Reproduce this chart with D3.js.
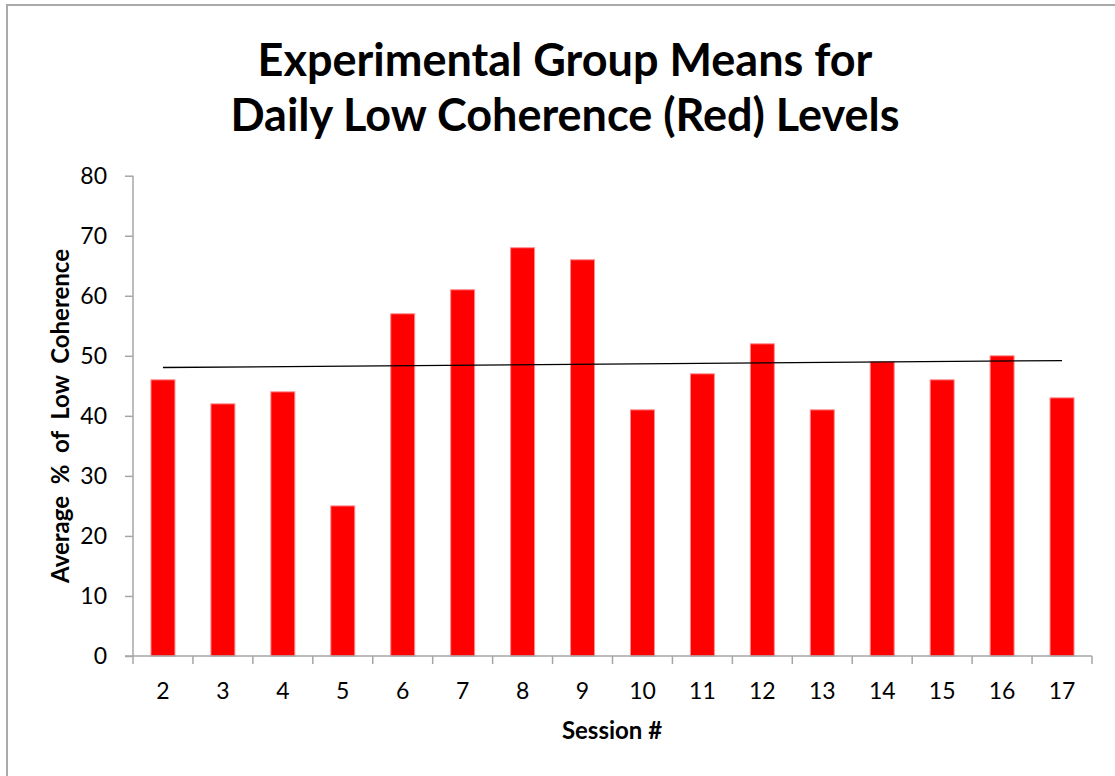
<!DOCTYPE html>
<html lang="en">
<head>
    <style>
        body { margin: 0; background: #fff; }
        text { font-family: Lato, "Noto Sans", sans-serif; fill: #000; }
        .tick text { font-size: 23px; }
        .bar { fill: #ff0000; stroke: #ff8c8c; stroke-width: 1; }
    </style>
    <script src="https://d3js.org/d3.v7.min.js"></script>
</head>
<body>
<script>
    var width = 1115, height = 776;

    // sessions and the mean values
    var sessions = ["2", "3", "4", "5", "6", "7", "8", "9", "10", "11", "12", "13", "14", "15", "16", "17"];
    var means = [46, 42, 44, 25, 57, 61, 68, 66, 41, 47, 52, 41, 49, 46, 50, 43];
    // linear trendline, value at first and last session
    var trendEnds = [48.05, 49.2];
    var yTicks = [0, 10, 20, 30, 40, 50, 60, 70, 80];
    var titleLines = ["Experimental Group Means for", "Daily Low Coherence (Red) Levels"];

    var plotLeft = 133, plotRight = 1092, plotTop = 175.7, plotBottom = 656;

    var svg = d3.select("body")
                .append("svg")
                .attr("width", width)
                .attr("height", height);

    // outer frame of the chart area
    svg.append("rect")
       .attr("x", 7).attr("y", 5)
       .attr("width", width + 20).attr("height", height + 20)
       .attr("fill", "none")
       .attr("stroke", "#aaaaaa")
       .attr("stroke-width", 2);

    var xscale = d3.scaleBand()
                   .domain(sessions)
                   .range([plotLeft, plotRight])
                   .paddingInner(0.6)
                   .paddingOuter(0.3);

    var xedge = d3.scaleBand()
                  .domain(sessions)
                  .range([plotLeft, plotRight]);

    var yscale = d3.scaleLinear()
                   .domain([0, 80])
                   .range([plotBottom, plotTop]);

    // bars
    svg.selectAll(".bar")
       .data(means)
       .enter().append("rect")
       .attr("class", "bar")
       .attr("x", function(d, i) { return xscale(sessions[i]); })
       .attr("width", xscale.bandwidth())
       .attr("y", function(d) { return yscale(d); })
       .attr("height", function(d) { return plotBottom - yscale(d); });

    // y axis
    var y_axis = d3.axisLeft(yscale)
                   .tickValues(yTicks)
                   .tickSize(8)
                   .tickPadding(18);
    var gy = svg.append("g")
                .attr("transform", "translate(" + plotLeft + ",0)")
                .call(y_axis);
    gy.select(".domain").attr("stroke", "#a6a6a6").attr("stroke-width", 1.5)
      .attr("d", "M0," + plotTop + "V" + plotBottom);
    gy.selectAll(".tick line").attr("stroke", "#a6a6a6").attr("stroke-width", 1.5);

    // x axis: labels under band centres, ticks at band edges
    var x_axis = d3.axisBottom(xedge)
                   .tickSize(0)
                   .tickPadding(27);
    var gx = svg.append("g")
                .attr("transform", "translate(0," + plotBottom + ")")
                .call(x_axis);
    gx.select(".domain").attr("stroke", "#a6a6a6").attr("stroke-width", 1.5)
      .attr("d", "M" + (plotLeft - 8) + ",0H" + plotRight);

    var edges = sessions.map(function(s) { return xedge(s); }).concat([plotRight]);
    gx.selectAll(".edge")
      .data(edges)
      .enter().append("line")
      .attr("x1", function(d) { return d; })
      .attr("x2", function(d) { return d; })
      .attr("y1", 0).attr("y2", 8)
      .attr("stroke", "#a6a6a6").attr("stroke-width", 1.5);

    // trendline
    var mid = xedge.bandwidth() / 2;
    svg.append("line")
       .attr("x1", xedge(sessions[0]) + mid)
       .attr("y1", yscale(trendEnds[0]))
       .attr("x2", xedge(sessions[sessions.length - 1]) + mid)
       .attr("y2", yscale(trendEnds[1]))
       .attr("stroke", "#000")
       .attr("stroke-width", 1.3);

    // titles
    svg.selectAll(".title")
       .data(titleLines)
       .enter().append("text")
       .attr("class", "title")
       .attr("x", 565)
       .attr("y", function(d, i) { return 76 + i * 55; })
       .attr("text-anchor", "middle")
       .style("font-size", "45px")
       .style("font-weight", "bold")
       .text(function(d) { return d; });

    svg.append("text")
       .attr("x", 612)
       .attr("y", 739)
       .attr("text-anchor", "middle")
       .style("font-size", "24px")
       .style("font-weight", "bold")
       .text("Session #");

    svg.append("text")
       .attr("transform", "translate(69,416) rotate(-90)")
       .attr("text-anchor", "middle")
       .style("font-size", "24px")
       .style("font-weight", "bold")
       .style("white-space", "pre")
       .text("Average  %  of  Low  Coherence");
</script>
</body>
</html>
